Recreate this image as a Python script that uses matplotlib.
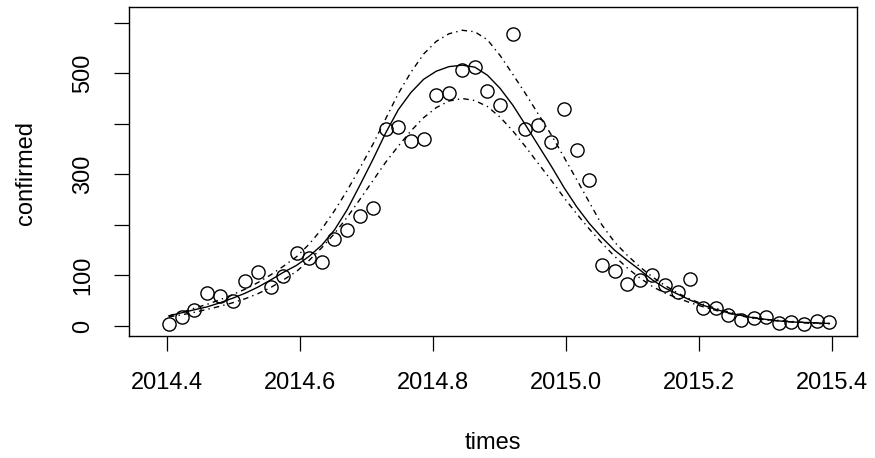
import numpy as np
import matplotlib.pyplot as plt

plt.rcParams['font.family'] = ['Liberation Sans', 'DejaVu Sans']

# weekly observation times (decimal years)
times = [2014.403, 2014.422, 2014.441, 2014.461, 2014.480, 2014.499, 2014.518,
         2014.537, 2014.556, 2014.575, 2014.595, 2014.614, 2014.633, 2014.652,
         2014.671, 2014.690, 2014.710, 2014.729, 2014.748, 2014.767, 2014.786,
         2014.805, 2014.824, 2014.844, 2014.863, 2014.882, 2014.901, 2014.920,
         2014.939, 2014.958, 2014.978, 2014.997, 2015.016, 2015.035, 2015.054,
         2015.073, 2015.092, 2015.111, 2015.130, 2015.149, 2015.168, 2015.187,
         2015.206, 2015.225, 2015.244, 2015.263, 2015.282, 2015.301, 2015.320,
         2015.339, 2015.358, 2015.377, 2015.396]

confirmed = [3, 18, 32, 65, 59, 49, 88, 106, 78, 98, 144, 135, 127, 173, 190,
             217, 233, 389, 394, 365, 369, 456, 460, 506, 512, 465, 437, 578,
             390, 397, 364, 429, 348, 288, 121, 109, 84, 90, 100, 82, 67, 92,
             36, 36, 22, 11, 16, 18, 5, 8, 3, 9, 7]

fitted = [20, 26, 32, 38, 46, 55, 65, 77, 91, 106, 120, 138, 160, 190, 230,
          278, 330, 382, 428, 462, 488, 504, 513, 516, 512, 496, 470, 437, 398,
          358, 316, 274, 236, 203, 175, 150, 130, 111, 91, 75, 63, 51, 41, 33,
          26, 21, 16, 13, 10, 8, 7, 6, 5]

upper = [20, 27, 35, 43, 52, 62, 73, 86, 101, 118, 137, 162, 192, 228, 268,
         312, 360, 410, 460, 502, 538, 563, 578, 585, 582, 566, 535, 498, 460,
         420, 378, 334, 290, 245, 200, 166, 140, 117, 97, 80, 65, 53, 43, 35,
         28, 22, 17, 13, 11, 9, 7, 6, 5]

lower = [18, 22, 27, 33, 39, 46, 54, 64, 76, 91, 108, 130, 155, 183, 215, 250,
         288, 324, 356, 386, 412, 432, 445, 450, 446, 434, 413, 386, 355, 322,
         288, 254, 222, 192, 164, 138, 115, 95, 78, 65, 55, 46, 38, 31, 25, 20,
         15, 12, 10, 8, 6, 5, 4]

xticks = [2014.4, 2014.6, 2014.8, 2015.0, 2015.2, 2015.4]
xticklabels = ['2014.4', '2014.6', '2014.8', '2015.0', '2015.2', '2015.4']
yticks = [0, 100, 200, 300, 400, 500, 600]
yticklabels = ['0', '100', '', '300', '', '500', '']

fig = plt.figure(figsize=(8.75, 4.58), dpi=100)
ax = fig.add_axes([0.1474, 0.2664, 0.8316, 0.7183])

dotdash = (0, (4, 3, 1, 3))
ax.plot(times, confirmed, 'o', mfc='none', mec='black', ms=9.5, mew=1.0)
ax.plot(times, fitted, color='black', lw=1.0)
ax.plot(times, upper, color='black', lw=1.0, linestyle=dotdash)
ax.plot(times, lower, color='black', lw=1.0, linestyle=dotdash)

ax.set_xlim(2014.343, 2015.437)
ax.set_ylim(-19.8, 631)
ax.set_xticks(xticks)
ax.set_xticklabels(xticklabels)
ax.set_yticks(yticks)
ax.set_yticklabels(yticklabels, rotation=90, va='center')
ax.tick_params(length=11, width=0.9, labelsize=17, color='black')
ax.tick_params(axis='x', pad=15)
ax.tick_params(axis='y', pad=14)
for s in ax.spines.values():
    s.set_linewidth(1.0)

fig.text(0.5634, 1 - 443 / 458, 'times', ha='center', va='center', fontsize=17)
fig.text(26 / 875, 1 - 173 / 458, 'confirmed', ha='center', va='center',
         rotation=90, fontsize=17)

fig.savefig('out.png', dpi=100)
